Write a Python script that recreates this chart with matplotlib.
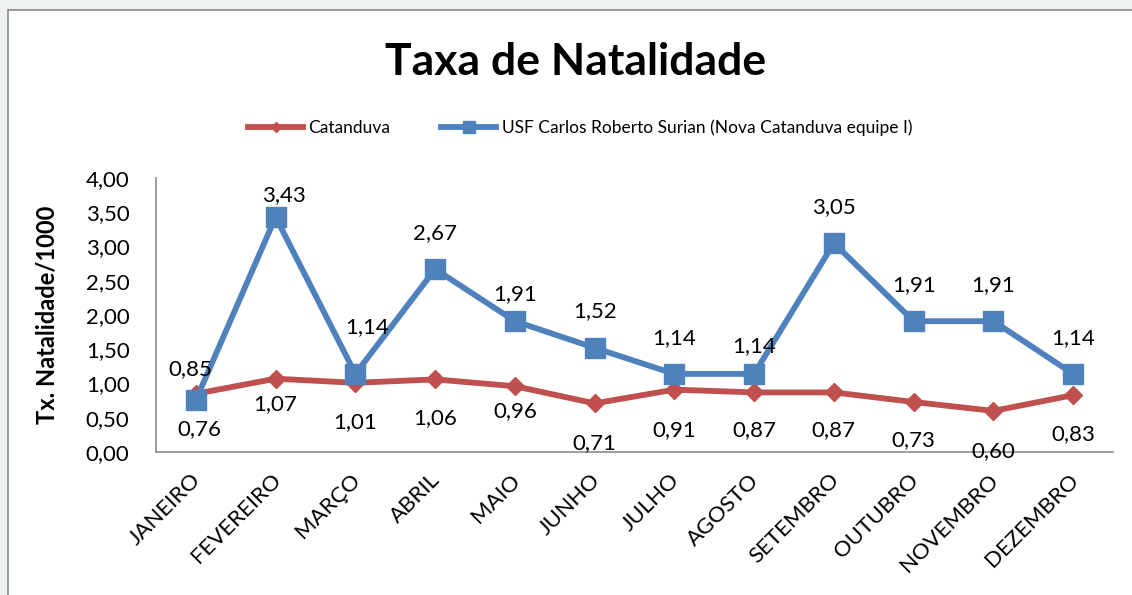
import matplotlib
matplotlib.use("Agg")
import matplotlib.pyplot as plt
from matplotlib.patches import Rectangle
from matplotlib.transforms import ScaledTranslation

plt.rcParams['font.family'] = ['Lato', 'DejaVu Sans']

months = ["JANEIRO", "FEVEREIRO", "MARÇO", "ABRIL", "MAIO", "JUNHO", "JULHO",
          "AGOSTO", "SETEMBRO", "OUTUBRO", "NOVEMBRO", "DEZEMBRO"]
catanduva = [0.85, 1.07, 1.01, 1.06, 0.96, 0.71, 0.91, 0.87, 0.87, 0.73, 0.60, 0.83]
usf = [0.76, 3.43, 1.14, 2.67, 1.91, 1.52, 1.14, 1.14, 3.05, 1.91, 1.91, 1.14]
yticks = [0, 0.5, 1.0, 1.5, 2.0, 2.5, 3.0, 3.5, 4.0]

# label offsets (pixels, screen y downward) as placed in the original chart
red_lbl_dx = [-6, 0, 0, 0, 0, 0, 0, 0, 0, 0, 0, 0]
red_lbl_dy = [-25, 25, 39, 39, 25, 40, 40, 38, 38, 38, 40, 39]
blue_lbl_dx = [4, 8, 12, 0, 0, 0, 0, 0, 0, 0, 0, 0]
blue_lbl_dy = [29, -22, -47, -36, -27, -37, -36, -28, -36, -36, -36, -36]

W, H = 1132, 595
fig = plt.figure(figsize=(W / 100, H / 100), dpi=100)
fig.patch.set_facecolor("#eef2ee")
fig.patches.append(Rectangle((8 / W, -0.05), 1.2, (595 - 10) / H + 0.05,
                             transform=fig.transFigure, facecolor="white",
                             edgecolor="#8a8a8a", linewidth=1.2, zorder=-10))

ax = fig.add_axes([156 / W, 1 - 452 / H, (1113 - 156) / W, (452 - 178) / H])
ax.set_facecolor("none")
x = list(range(len(months)))
red = "#C0504D"
blue = "#4F81BD"
l1, = ax.plot(x, catanduva, color=red, lw=4.2, marker="D", ms=9, label="Catanduva", zorder=3)
l2, = ax.plot(x, usf, color=blue, lw=4.2, marker="s", ms=14,
              label="USF Carlos Roberto Surian (Nova Catanduva equipe I)", zorder=4)

ax.set_xlim(-0.5, len(months) - 0.5)
ax.set_ylim(0, 4)
ax.set_yticks(yticks)
ax.set_yticklabels([f"{v:.2f}".replace(".", ",") for v in yticks], fontsize=16)
ax.set_xticks(x)
ax.set_xticklabels(months, rotation=45, ha="right", rotation_mode="anchor", fontsize=16)
ax.tick_params(axis="both", length=0)
ax.tick_params(axis="y", pad=19)
ax.tick_params(axis="x", pad=13)
shift = ScaledTranslation(-5 / 100, 0, fig.dpi_scale_trans)
for lbl in ax.get_xticklabels():
    lbl.set_transform(lbl.get_transform() + shift)
for s in ["top", "right"]:
    ax.spines[s].set_visible(False)
for s in ["left", "bottom"]:
    ax.spines[s].set_color("#8c8c8c")
    ax.spines[s].set_linewidth(1.2)

fmt = lambda v: f"{v:.2f}".replace(".", ",")
k = 0.72  # px -> points at 100 dpi
for i, (c, u) in enumerate(zip(catanduva, usf)):
    ax.annotate(fmt(c), (i, c), xytext=(red_lbl_dx[i] * k, -red_lbl_dy[i] * k),
                textcoords="offset points", ha="center", va="center",
                fontsize=16, zorder=6)
    ax.annotate(fmt(u), (i, u), xytext=(blue_lbl_dx[i] * k, -blue_lbl_dy[i] * k),
                textcoords="offset points", ha="center", va="center",
                fontsize=16, zorder=6)

ax.set_ylabel("Tx. Natalidade/1000", fontsize=17, fontweight="bold", labelpad=10)
ax.yaxis.set_label_coords((59 - 156) / (1113 - 156), 0.5)

fig.text(576 / W, 1 - 62 / H, "Taxa de Natalidade", ha="center", va="center",
         fontsize=32, fontweight="bold")

fig.legend(handles=[l1, l2], loc="center", bbox_to_anchor=(580 / W, 1 - 128 / H),
           ncol=2, frameon=False, fontsize=12.5, handlelength=3.2, columnspacing=2.9,
           handletextpad=0.3, markerscale=0.6)

fig.savefig("out.png", dpi=100, facecolor=fig.get_facecolor())
